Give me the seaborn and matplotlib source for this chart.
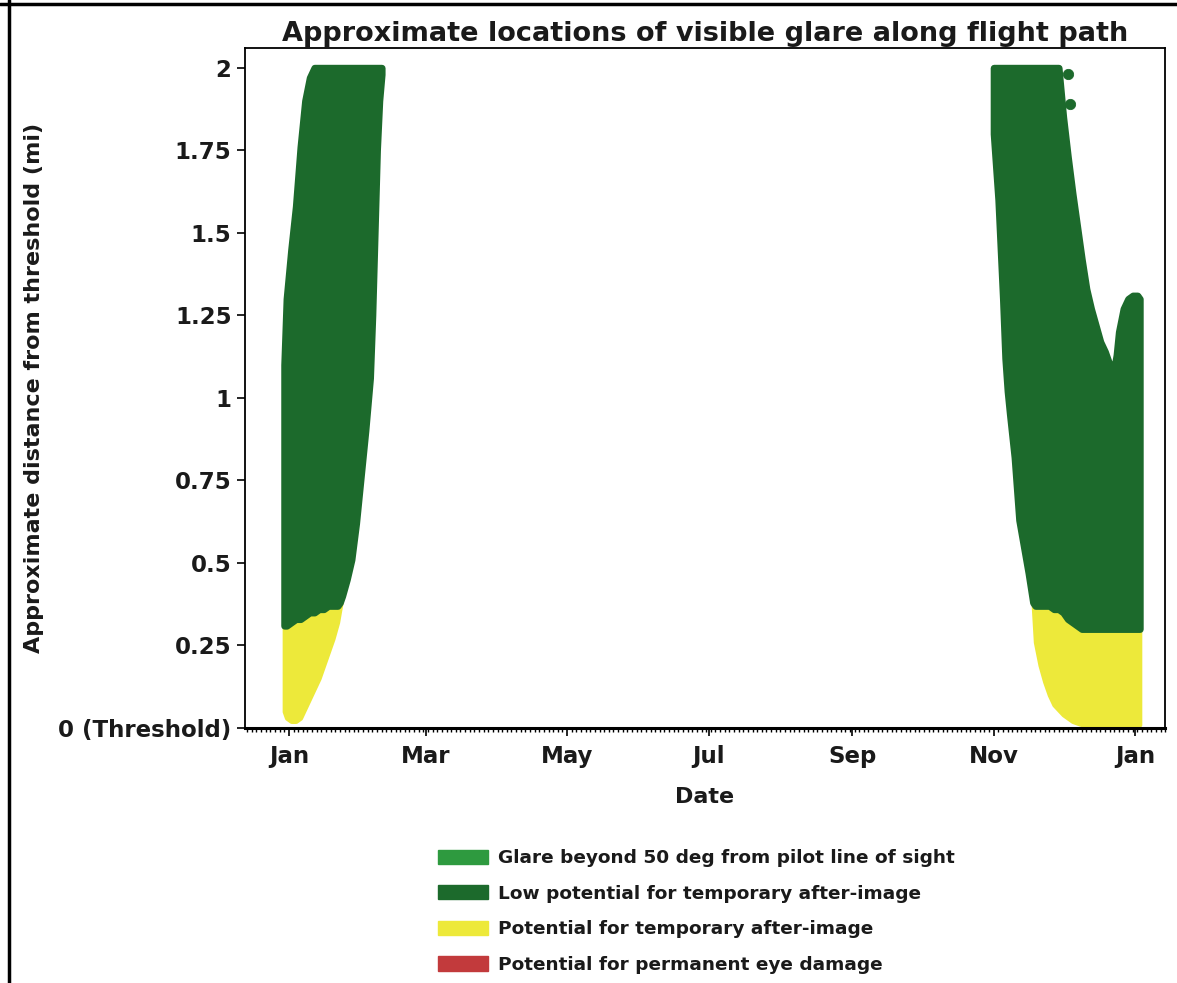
import numpy as np
import pandas as pd
import matplotlib
matplotlib.use("Agg")
import matplotlib.pyplot as plt
import matplotlib.dates as mdates
from matplotlib.patches import Patch
from matplotlib.lines import Line2D
import seaborn as sns

# ---------------- data ----------------
# Winter-start glare cluster (Dec/Jan/Feb)
left_dates = ["2020-12-30", "2020-12-31", "2021-01-02", "2021-01-04", "2021-01-06",
              "2021-01-08", "2021-01-10", "2021-01-12", "2021-01-14", "2021-01-16",
              "2021-01-18", "2021-01-20", "2021-01-22", "2021-01-23", "2021-01-24",
              "2021-01-26", "2021-01-28", "2021-01-30", "2021-02-01", "2021-02-03",
              "2021-02-04", "2021-02-05", "2021-02-06", "2021-02-07", "2021-02-08",
              "2021-02-09", "2021-02-10"]
left_top = [1.10, 1.30, 1.45, 1.58, 1.76, 1.90, 1.97, 2.00, 2.00, 2.00,
            2.00, 2.00, 2.00, 2.00, 2.00, 2.00, 2.00, 2.00, 2.00, 2.00,
            2.00, 2.00, 2.00, 2.00, 2.00, 2.00, 2.00]
left_mid = [0.31, 0.31, 0.32, 0.33, 0.33, 0.34, 0.35, 0.35, 0.36, 0.36,
            0.37, 0.37, 0.37, 0.38, 0.40, 0.45, 0.51, 0.62, 0.76, 0.90,
            0.98, 1.06, 1.25, 1.50, 1.75, 1.90, 1.98]
left_bot = [0.05, 0.03, 0.02, 0.02, 0.03, 0.06, 0.09, 0.12, 0.15, 0.19,
            0.23, 0.27, 0.32, 0.36, 0.40, 0.45, 0.51, 0.62, 0.76, 0.90,
            0.98, 1.06, 1.25, 1.50, 1.75, 1.90, 1.98]

# Winter-end glare cluster (Nov/Dec/Jan)
right_dates = ["2021-11-01", "2021-11-02", "2021-11-03", "2021-11-04", "2021-11-05",
               "2021-11-06", "2021-11-07", "2021-11-08", "2021-11-10", "2021-11-12",
               "2021-11-14", "2021-11-16", "2021-11-18", "2021-11-19", "2021-11-21",
               "2021-11-23", "2021-11-25", "2021-11-27", "2021-11-29", "2021-12-01",
               "2021-12-03", "2021-12-05", "2021-12-07", "2021-12-09", "2021-12-11",
               "2021-12-13", "2021-12-15", "2021-12-17", "2021-12-19", "2021-12-21",
               "2021-12-23", "2021-12-24", "2021-12-25", "2021-12-27", "2021-12-29",
               "2021-12-31", "2022-01-02", "2022-01-03"]
right_top = [2.00, 2.00, 2.00, 2.00, 2.00, 2.00, 2.00, 2.00, 2.00, 2.00,
             2.00, 2.00, 2.00, 2.00, 2.00, 2.00, 2.00, 2.00, 2.00, 1.85,
             1.73, 1.62, 1.52, 1.42, 1.33, 1.27, 1.22, 1.17, 1.14, 1.10,
             1.09, 1.13, 1.20, 1.27, 1.30, 1.31, 1.31, 1.30]
right_mid = [1.80, 1.70, 1.60, 1.45, 1.30, 1.12, 1.02, 0.95, 0.82, 0.63,
             0.55, 0.47, 0.38, 0.37, 0.37, 0.37, 0.37, 0.36, 0.36, 0.35,
             0.33, 0.32, 0.31, 0.30, 0.30, 0.30, 0.30, 0.30, 0.30, 0.30,
             0.30, 0.30, 0.30, 0.30, 0.30, 0.30, 0.30, 0.30]
right_bot = [1.80, 1.70, 1.60, 1.45, 1.30, 1.12, 1.02, 0.95, 0.82, 0.63,
             0.55, 0.47, 0.38, 0.26, 0.19, 0.14, 0.10, 0.07, 0.055, 0.04,
             0.03, 0.02, 0.015, 0.01, 0.01, 0.01, 0.01, 0.01, 0.01, 0.01,
             0.01, 0.01, 0.01, 0.01, 0.01, 0.01, 0.01, 0.01]

# isolated glare points
stray_dates = ["2021-12-03", "2021-12-04"]
stray_dist = [1.98, 1.89]

legend_labels = ["Glare beyond 50 deg from pilot line of sight",
                 "Low potential for temporary after-image",
                 "Potential for temporary after-image",
                 "Potential for permanent eye damage"]
legend_colors = ["#2e9a3f", "#1c6a2c", "#ede93a", "#c23a3c"]

ytick_vals = [0, 0.25, 0.5, 0.75, 1, 1.25, 1.5, 1.75, 2]
ytick_labels = ["0 (Threshold)", "0.25", "0.5", "0.75", "1", "1.25", "1.5", "1.75", "2"]

# ---------------- plot ----------------
sns.set_theme(style="ticks")
plt.rcParams["font.family"] = ["DejaVu Sans"]

fig = plt.figure(figsize=(11.77, 9.83), dpi=100)
ax = fig.add_axes([0.208, 0.2594, 0.782, 0.6918])

dark_green = legend_colors[1]
yellow = legend_colors[2]

for dts, top, mid, bot in [(left_dates, left_top, left_mid, left_bot),
                           (right_dates, right_top, right_mid, right_bot)]:
    x = pd.to_datetime(dts)
    top = np.array(top); mid = np.array(mid); bot = np.array(bot)
    has_y = bot < mid
    ax.fill_between(x, bot, mid, where=has_y, interpolate=True, color=yellow,
                    edgecolor=yellow, linewidth=3, joinstyle="round", zorder=2)
    ax.fill_between(x, mid, top, color=dark_green, edgecolor=dark_green,
                    linewidth=5, joinstyle="round", zorder=3)

stray = pd.DataFrame({"date": pd.to_datetime(stray_dates), "dist": stray_dist})
sns.scatterplot(data=stray, x="date", y="dist", color=dark_green, s=55,
                marker="o", edgecolor=dark_green, ax=ax, zorder=4)

ax.set_ylim(0, 2.06)
ax.set_xlim(pd.Timestamp("2020-12-13"), pd.Timestamp("2022-01-14"))
ax.set_yticks(ytick_vals)
ax.set_yticklabels(ytick_labels)
ax.xaxis.set_major_locator(mdates.MonthLocator(bymonth=[1, 3, 5, 7, 9, 11]))
ax.xaxis.set_major_formatter(mdates.DateFormatter("%b"))
ax.xaxis.set_minor_locator(mdates.DayLocator(interval=2))
ax.tick_params(axis="x", which="minor", length=3, width=1, color="black")
ax.tick_params(axis="both", which="major", length=6, width=1.2, color="black",
               labelsize=16.5, labelcolor="#1a1a1a")
ax.tick_params(axis="x", which="major", pad=6)
for lab in ax.get_xticklabels() + ax.get_yticklabels():
    lab.set_fontweight("bold")
for sp in ax.spines.values():
    sp.set_visible(True)
    sp.set_color("black")
    sp.set_linewidth(1.3)
ax.spines["bottom"].set_linewidth(2.2)

ax.set_xlabel("Date", fontsize=16, fontweight="bold", color="#1a1a1a", labelpad=14)
ax.set_ylabel("Approximate distance from threshold (mi)", fontsize=16,
              fontweight="bold", color="#1a1a1a", labelpad=10)
ax.set_title("Approximate locations of visible glare along flight path",
             fontsize=19.5, fontweight="bold", color="#1a1a1a", pad=5)

handles = [Patch(facecolor=c, edgecolor=c) for c in legend_colors]
leg = fig.legend(handles, legend_labels, loc="center", bbox_to_anchor=(0.592, 0.0727),
                 frameon=False, fontsize=13.3, handlelength=2.7, handleheight=0.8,
                 labelspacing=0.95, handletextpad=0.55)
for t in leg.get_texts():
    t.set_fontweight("bold")
    t.set_color("#1a1a1a")

# scanned page border
fig.add_artist(Line2D([0.008, 0.008], [0, 1], color="black", linewidth=2.5,
                      transform=fig.transFigure))
fig.add_artist(Line2D([0, 1], [0.996, 0.996], color="black", linewidth=2.5,
                      transform=fig.transFigure))

fig.savefig("out.png", dpi=100)
